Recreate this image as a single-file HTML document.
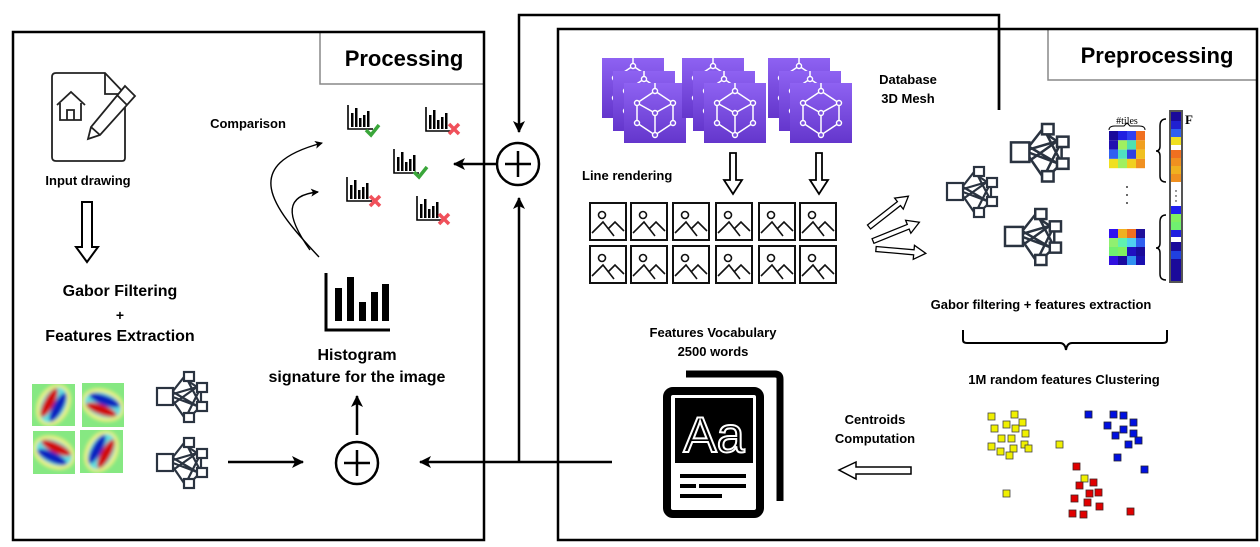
<!DOCTYPE html>
<html><head><meta charset="utf-8"><style>
html,body{margin:0;padding:0;background:#fff;}
svg{display:block;font-family:"Liberation Sans",Arial,sans-serif;}
</style></head><body>
<svg width="1260" height="547" viewBox="0 0 1260 547" xmlns="http://www.w3.org/2000/svg">
<defs>
<linearGradient id="pg" x1="0" y1="0" x2="0" y2="1"><stop offset="0" stop-color="#8e62f2"/><stop offset="1" stop-color="#6436cc"/></linearGradient>
<filter id="bl" x="-50%" y="-50%" width="200%" height="200%"><feGaussianBlur stdDeviation="1.8"/></filter>
<marker id="ah" markerWidth="8" markerHeight="8" refX="7" refY="4" orient="auto" markerUnits="userSpaceOnUse"><path d="M0,0 L8,4 L0,8 L2,4 z" fill="#000"/></marker>
<marker id="ah2" markerWidth="12" markerHeight="12" refX="11" refY="6" orient="auto" markerUnits="userSpaceOnUse"><path d="M0,0 L12,6 L0,12 L3,6 z" fill="#000"/></marker>
<g id="net" fill="#fff" stroke="#2a3340" stroke-width="2.2">
<path d="M16,19 L27,5 M16,22 L40,15 M16,25 L40,34 M16,29 L27,45 M16,32 L40,15 M16,20 L40,34 M31,9 L40,15 M31,9 L44,34 M44,19 L44,30 M31,41 L44,15 M32,46 L40,38" fill="none"/>
<rect x="0" y="16" width="16" height="17"/>
<rect x="27" y="0" width="10" height="9"/>
<rect x="40" y="11" width="10" height="9"/>
<rect x="40" y="30" width="10" height="9"/>
<rect x="27" y="41" width="10" height="9"/>
</g>
<g id="thumb">
<rect x="0" y="0" width="36" height="37" fill="#fff" stroke="#111" stroke-width="2"/>
<circle cx="12" cy="12" r="3.5" fill="none" stroke="#111" stroke-width="1.6"/>
<path d="M2,30 L13,19 L24,33 M18,26 L25,19 L34,28" fill="none" stroke="#111" stroke-width="1.6"/>
</g>
<g id="hist">
<path d="M1,0 V24 H26" fill="none" stroke="#000" stroke-width="1.6"/>
<rect x="4" y="8" width="2.5" height="14"/><rect x="8" y="3" width="2.5" height="19"/><rect x="12" y="13" width="2.5" height="9"/><rect x="16" y="10" width="2.5" height="12"/><rect x="20" y="6" width="2.5" height="16"/>
</g>
<path id="ck" d="M0,6 L5,11 L13,1" fill="none" stroke="#3aa63a" stroke-width="3.5"/>
<path id="xx" d="M0,0 L10,10 M10,0 L0,10" fill="none" stroke="#f0505a" stroke-width="3.5"/>
<g id="mesh">
<rect x="0" y="0" width="62" height="60" fill="url(#pg)"/>
<g stroke="#fff" stroke-width="1.5" fill="none">
<path d="M31,8 L13,20 L13,40 L31,52 L49,40 L49,20 Z M31,8 V0 M13,20 L31,30 L49,20 M31,30 V52"/>
</g>
<g fill="#7a4ee0" stroke="#fff" stroke-width="1.4"><circle cx="31" cy="8" r="2.5"/><circle cx="13" cy="20" r="2.5"/><circle cx="49" cy="20" r="2.5"/><circle cx="31" cy="30" r="2.5"/><circle cx="13" cy="40" r="2.5"/><circle cx="49" cy="40" r="2.5"/><circle cx="31" cy="52" r="2.5"/></g>
</g>
<g id="mstack"><use href="#mesh" x="0" y="0"/><use href="#mesh" x="11" y="13"/><use href="#mesh" x="22" y="25"/></g>
<g id="gabk" filter="url(#bl)">
<ellipse cx="0" cy="0" rx="22" ry="16" fill="#f0f080"/>
<ellipse cx="0" cy="0" rx="19" ry="12" fill="#60e0e0"/>
<ellipse cx="0" cy="-5" rx="16" ry="5" fill="#d01010"/>
<ellipse cx="0" cy="5" rx="16" ry="5" fill="#1020c0"/>
</g>
</defs>

<path d="M999,110 V15 H519 V132" fill="none" stroke="#000" stroke-width="2.5" marker-end="url(#ah2)"/>

<rect x="320" y="32" width="164" height="52" fill="#fff" stroke="#888" stroke-width="1.5"/>
<rect x="13" y="32" width="471" height="508" fill="none" stroke="#000" stroke-width="2.5"/>
<text x="404" y="66" font-size="22" font-weight="bold" text-anchor="middle">Processing</text>

<rect x="1048" y="29" width="209" height="51" fill="#fff" stroke="#888" stroke-width="1.5"/>
<rect x="558" y="29" width="699" height="511" fill="none" stroke="#000" stroke-width="2.5"/>
<path d="M999,29 V110" stroke="#000" stroke-width="2.5"/>
<text x="1157" y="63" font-size="22" font-weight="bold" text-anchor="middle">Preprocessing</text>

<path d="M56,73 H105 L125,94 V158 Q125,161 122,161 H56 Q52,161 52,157 V77 Q52,73 56,73 Z" fill="#fff" stroke="#222" stroke-width="1.8"/>
<path d="M105,73 V94 H125" fill="none" stroke="#222" stroke-width="1.8"/>
<path d="M57,105 L71,92 L85,105 M60,103 V120 H81 V103 M67,120 V110 H74 V120" fill="none" stroke="#222" stroke-width="1.8"/>
<path d="M125,86 L135,96 L100,135 L88,139 L91,127 Z M117,95 L127,105 M91,127 L100,135" fill="#fff" stroke="#222" stroke-width="1.8"/>
<text x="88" y="185" font-size="13" font-weight="bold" text-anchor="middle">Input drawing</text>
<path d="M82,202 H92 V247 H98 L87,262 L76,247 H82 Z" fill="#fff" stroke="#000" stroke-width="2"/>
<text x="120" y="296" font-size="16" font-weight="bold" text-anchor="middle">Gabor Filtering</text>
<text x="120" y="320" font-size="14" font-weight="bold" text-anchor="middle">+</text>
<text x="120" y="341" font-size="16" font-weight="bold" text-anchor="middle">Features Extraction</text>

<svg x="32" y="384" width="43" height="42"><rect width="43" height="42" fill="#86e882"/><use href="#gabk" transform="translate(21.5,21) rotate(-62)"/></svg>
<svg x="82" y="383" width="42" height="44"><rect width="42" height="44" fill="#86e882"/><use href="#gabk" transform="translate(21,22) rotate(200)"/></svg>
<svg x="33" y="431" width="42" height="43"><rect width="42" height="43" fill="#86e882"/><use href="#gabk" transform="translate(21,21.5) rotate(25)"/></svg>
<svg x="80" y="430" width="43" height="43"><rect width="43" height="43" fill="#86e882"/><use href="#gabk" transform="translate(21.5,21.5) rotate(118)"/></svg>

<use href="#net" x="157" y="372"/>
<use href="#net" x="157" y="438"/>
<path d="M228,462 H303" stroke="#000" stroke-width="2.5" marker-end="url(#ah2)"/>
<circle cx="357" cy="463" r="21" fill="#fff" stroke="#000" stroke-width="2.5"/>
<path d="M357,450 V476 M344,463 H370" stroke="#000" stroke-width="2.5"/>
<path d="M357,435 V396" stroke="#000" stroke-width="2.5" marker-end="url(#ah2)"/>
<text x="357" y="360" font-size="16" font-weight="bold" text-anchor="middle">Histogram</text>
<text x="357" y="382" font-size="16" font-weight="bold" text-anchor="middle">signature for the image</text>
<path d="M326,273 V330 H390" fill="none" stroke="#000" stroke-width="3"/>
<rect x="335" y="288" width="7" height="33"/><rect x="347" y="277" width="7" height="44"/><rect x="359" y="302" width="7" height="19"/><rect x="371" y="292" width="7" height="29"/><rect x="382" y="284" width="7" height="37"/>

<text x="248" y="128" font-size="13" font-weight="bold" text-anchor="middle">Comparison</text>
<use href="#hist" x="347" y="105"/><use href="#ck" x="366" y="124"/>
<use href="#hist" x="425" y="107"/><use href="#xx" x="449" y="124"/>
<use href="#hist" x="393" y="149"/><use href="#ck" x="414" y="166"/>
<use href="#hist" x="346" y="177"/><use href="#xx" x="370" y="196"/>
<use href="#hist" x="416" y="196"/><use href="#xx" x="439" y="214"/>
<path d="M319,257 C270,205 240,165 322,143" fill="none" stroke="#000" stroke-width="1.4" marker-end="url(#ah)"/>
<path d="M310,250 C285,215 285,195 318,192" fill="none" stroke="#000" stroke-width="1.4" marker-end="url(#ah)"/>

<circle cx="518" cy="164" r="21" fill="#fff" stroke="#000" stroke-width="2.5"/>
<path d="M518,151 V177 M505,164 H531" stroke="#000" stroke-width="2.5"/>
<path d="M497,164 H454" stroke="#000" stroke-width="2.5" marker-end="url(#ah2)"/>
<path d="M519,462 V198" stroke="#000" stroke-width="2.5" marker-end="url(#ah2)"/>
<path d="M612,462 H420" stroke="#000" stroke-width="2.5" marker-end="url(#ah2)"/>

<use href="#mstack" x="602" y="58"/>
<use href="#mstack" x="682" y="58"/>
<use href="#mstack" x="768" y="58"/>
<text x="908" y="84" font-size="13" font-weight="bold" text-anchor="middle">Database</text>
<text x="908" y="103" font-size="13" font-weight="bold" text-anchor="middle">3D Mesh</text>
<text x="582" y="180" font-size="13" font-weight="bold">Line rendering</text>
<path d="M730,153 H736 V180 H742 L733,194 L724,180 H730 Z" fill="#fff" stroke="#000" stroke-width="1.8"/>
<path d="M816,153 H822 V180 H828 L819,194 L810,180 H816 Z" fill="#fff" stroke="#000" stroke-width="1.8"/>
<g>
<use href="#thumb" x="590" y="203"/><use href="#thumb" x="631" y="203"/><use href="#thumb" x="673" y="203"/><use href="#thumb" x="716" y="203"/><use href="#thumb" x="759" y="203"/><use href="#thumb" x="800" y="203"/>
<use href="#thumb" x="590" y="246"/><use href="#thumb" x="631" y="246"/><use href="#thumb" x="673" y="246"/><use href="#thumb" x="716" y="246"/><use href="#thumb" x="759" y="246"/><use href="#thumb" x="800" y="246"/>
</g>
<g fill="#fff" stroke="#000" stroke-width="1.3">
<path d="M0,-2.5 H38 V-7 L50,0 L38,7 V2.5 H0 Z" transform="translate(869,227) rotate(-38)"/>
<path d="M0,-2.5 H38 V-7 L50,0 L38,7 V2.5 H0 Z" transform="translate(873,241) rotate(-22)"/>
<path d="M0,-2.5 H38 V-7 L50,0 L38,7 V2.5 H0 Z" transform="translate(876,249) rotate(5)"/>
</g>
<use href="#net" x="947" y="167"/>
<use href="#net" x="1011" y="124" transform="translate(1011,124) scale(1.15) translate(-1011,-124)"/>
<use href="#net" x="1005" y="209" transform="translate(1005,209) scale(1.12) translate(-1005,-209)"/>

<g>
<text x="1127" y="124" font-size="10" font-family="Liberation Serif,serif" text-anchor="middle">#tiles</text>
<path d="M1109,130 Q1109,126 1115,126 H1124 L1127,123 L1130,126 H1139 Q1145,126 1145,130" fill="none" stroke="#000" stroke-width="1"/>
<g transform="translate(1109,131)">
<rect x="0" y="0" width="9" height="9.3" fill="#1a0a9a"/><rect x="9" y="0" width="9" height="9.3" fill="#2020e0"/><rect x="18" y="0" width="9" height="9.3" fill="#3040f0"/><rect x="27" y="0" width="9" height="9.3" fill="#f07020"/>
<rect x="0" y="9.3" width="9" height="9.3" fill="#2010b0"/><rect x="9" y="9.3" width="9" height="9.3" fill="#a0f060"/><rect x="18" y="9.3" width="9" height="9.3" fill="#50e0b0"/><rect x="27" y="9.3" width="9" height="9.3" fill="#f0a020"/>
<rect x="0" y="18.6" width="9" height="9.3" fill="#3060f0"/><rect x="9" y="18.6" width="9" height="9.3" fill="#50e0c0"/><rect x="18" y="18.6" width="9" height="9.3" fill="#3040e0"/><rect x="27" y="18.6" width="9" height="9.3" fill="#f0c020"/>
<rect x="0" y="27.9" width="9" height="9.3" fill="#f0e020"/><rect x="9" y="27.9" width="9" height="9.3" fill="#a0f060"/><rect x="18" y="27.9" width="9" height="9.3" fill="#f0d020"/><rect x="27" y="27.9" width="9" height="9.3" fill="#f09020"/>
</g>
<g transform="translate(1109,229)">
<rect x="0" y="0" width="9" height="9" fill="#3010f0"/><rect x="9" y="0" width="9" height="9" fill="#f0b020"/><rect x="18" y="0" width="9" height="9" fill="#f07020"/><rect x="27" y="0" width="9" height="9" fill="#20109a"/>
<rect x="0" y="9" width="9" height="9" fill="#90f070"/><rect x="9" y="9" width="9" height="9" fill="#60f0b0"/><rect x="18" y="9" width="9" height="9" fill="#50d0f0"/><rect x="27" y="9" width="9" height="9" fill="#3060f0"/>
<rect x="0" y="18" width="9" height="9" fill="#70f070"/><rect x="9" y="18" width="9" height="9" fill="#80f060"/><rect x="18" y="18" width="9" height="9" fill="#2010c0"/><rect x="27" y="18" width="9" height="9" fill="#1a0a9a"/>
<rect x="0" y="27" width="9" height="9" fill="#3010e0"/><rect x="9" y="27" width="9" height="9" fill="#1a0aa0"/><rect x="18" y="27" width="9" height="9" fill="#3090f0"/><rect x="27" y="27" width="9" height="9" fill="#1a10b0"/>
</g>
<circle cx="1127" cy="187" r="0.9"/><circle cx="1127" cy="195" r="0.9"/><circle cx="1127" cy="203" r="0.9"/>
<path d="M1166,119 Q1160,119 1160,126 V146 Q1160,151 1156,151 Q1160,151 1160,156 V176 Q1160,182 1166,182" fill="none" stroke="#000" stroke-width="1.5"/>
<path d="M1166,215 Q1160,215 1160,222 V243 Q1160,248 1156,248 Q1160,248 1160,253 V274 Q1160,280 1166,280" fill="none" stroke="#000" stroke-width="1.5"/>
<g transform="translate(1171,112)">
<rect x="0" y="0" width="10" height="9" fill="#1a0a9a"/><rect x="0" y="9" width="10" height="8" fill="#2020d0"/><rect x="0" y="17" width="10" height="8" fill="#3060f0"/><rect x="0" y="25" width="10" height="8" fill="#f0e020"/><rect x="0" y="33" width="10" height="5" fill="#fff"/><rect x="0" y="38" width="10" height="8" fill="#f07020"/><rect x="0" y="46" width="10" height="8" fill="#f09020"/><rect x="0" y="54" width="10" height="8" fill="#f0b020"/><rect x="0" y="62" width="10" height="8" fill="#f09020"/><rect x="0" y="70" width="10" height="24" fill="#fff"/><rect x="0" y="94" width="10" height="8" fill="#2020f0"/><rect x="0" y="102" width="10" height="8" fill="#80f060"/><rect x="0" y="110" width="10" height="8" fill="#70f070"/><rect x="0" y="118" width="10" height="7" fill="#2020e0"/><rect x="0" y="125" width="10" height="5" fill="#fff"/><rect x="0" y="130" width="10" height="9" fill="#1a0a9a"/><rect x="0" y="139" width="10" height="8" fill="#2040e0"/><rect x="0" y="147" width="10" height="22" fill="#1a0a9a"/>
<circle cx="5" cy="79" r="0.7"/><circle cx="5" cy="84" r="0.7"/><circle cx="5" cy="89" r="0.7"/>
<rect x="-1" y="-1" width="12" height="171" fill="none" stroke="#555" stroke-width="2"/>
</g>
<text x="1185" y="124" font-size="13" font-weight="bold" font-family="Liberation Serif,serif">F</text>
</g>
<text x="1041" y="309" font-size="13" font-weight="bold" text-anchor="middle">Gabor filtering + features extraction</text>
<path d="M963,330 V340 Q963,343 967,343 H1060 Q1065,343 1066,350 Q1067,343 1072,343 H1163 Q1167,343 1167,340 V330" fill="none" stroke="#000" stroke-width="2"/>
<text x="1064" y="384" font-size="13" font-weight="bold" text-anchor="middle">1M random features Clustering</text>
<text x="713" y="337" font-size="13" font-weight="bold" text-anchor="middle">Features Vocabulary</text>
<text x="713" y="356" font-size="13" font-weight="bold" text-anchor="middle">2500 words</text>

<path d="M686,374 H775 Q780,374 780,379 V501" fill="none" stroke="#000" stroke-width="7"/>
<rect x="667" y="391" width="93" height="123" rx="6" fill="#fff" stroke="#000" stroke-width="8"/>
<rect x="675" y="398" width="78" height="65" fill="#000"/>
<text x="714" y="452" font-size="50" fill="#000" stroke="#fff" stroke-width="2" text-anchor="middle">Aa</text>
<rect x="680" y="474" width="66" height="4" fill="#000"/>
<rect x="680" y="484" width="16" height="4" fill="#000"/><rect x="699" y="484" width="47" height="4" fill="#000"/>
<rect x="680" y="494" width="42" height="4" fill="#000"/>

<text x="875" y="424" font-size="13" font-weight="bold" text-anchor="middle">Centroids</text>
<text x="875" y="443" font-size="13" font-weight="bold" text-anchor="middle">Computation</text>
<path d="M911,467 H856 V462 L839,470 L856,479 V474 H911 Z" fill="#fff" stroke="#000" stroke-width="1.5"/>

<g fill="#f0f000" stroke="#444" stroke-width="0.8">
<rect x="988" y="413" width="7" height="7"/><rect x="1011" y="411" width="7" height="7"/><rect x="1003" y="421" width="7" height="7"/><rect x="1019" y="419" width="7" height="7"/><rect x="991" y="425" width="7" height="7"/><rect x="1012" y="425" width="7" height="7"/><rect x="1022" y="430" width="7" height="7"/><rect x="998" y="435" width="7" height="7"/><rect x="1008" y="435" width="7" height="7"/><rect x="1021" y="441" width="7" height="7"/><rect x="988" y="443" width="7" height="7"/><rect x="997" y="448" width="7" height="7"/><rect x="1010" y="445" width="7" height="7"/><rect x="1025" y="445" width="7" height="7"/><rect x="1006" y="452" width="7" height="7"/><rect x="1056" y="441" width="7" height="7"/><rect x="1081" y="475" width="7" height="7"/><rect x="1003" y="490" width="7" height="7"/>
</g>
<g fill="#0010e0" stroke="#223" stroke-width="0.8">
<rect x="1085" y="411" width="7" height="7"/><rect x="1110" y="411" width="7" height="7"/><rect x="1120" y="412" width="7" height="7"/><rect x="1130" y="419" width="7" height="7"/><rect x="1104" y="422" width="7" height="7"/><rect x="1120" y="426" width="7" height="7"/><rect x="1130" y="430" width="7" height="7"/><rect x="1112" y="432" width="7" height="7"/><rect x="1135" y="437" width="7" height="7"/><rect x="1125" y="441" width="7" height="7"/><rect x="1114" y="454" width="7" height="7"/><rect x="1141" y="466" width="7" height="7"/>
</g>
<g fill="#e00000" stroke="#422" stroke-width="0.8">
<rect x="1073" y="463" width="7" height="7"/><rect x="1090" y="479" width="7" height="7"/><rect x="1076" y="482" width="7" height="7"/><rect x="1086" y="490" width="7" height="7"/><rect x="1095" y="489" width="7" height="7"/><rect x="1071" y="495" width="7" height="7"/><rect x="1084" y="499" width="7" height="7"/><rect x="1096" y="503" width="7" height="7"/><rect x="1069" y="510" width="7" height="7"/><rect x="1080" y="511" width="7" height="7"/><rect x="1127" y="508" width="7" height="7"/>
</g>
</svg>
</body></html>
